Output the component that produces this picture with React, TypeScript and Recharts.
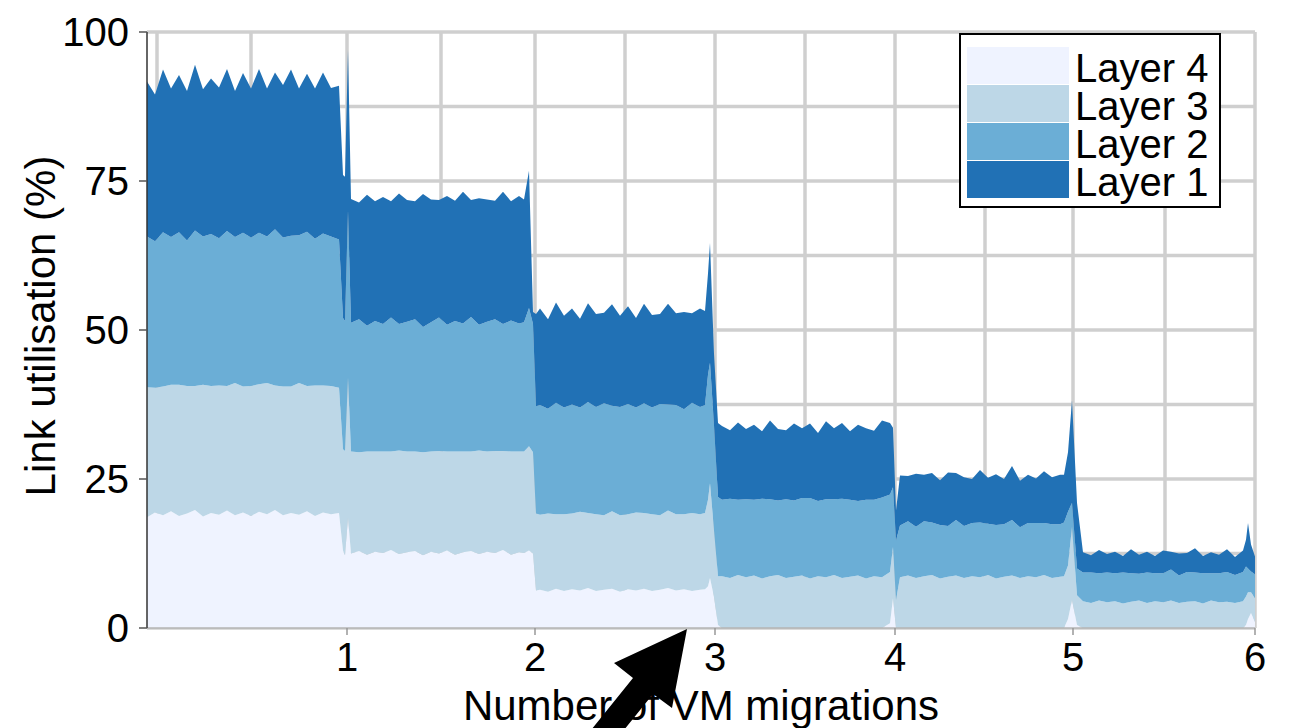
import { AreaChart, Area, XAxis, YAxis, CartesianGrid, Legend } from "recharts";

const FONT = '"Liberation Sans", Arial, Helvetica, sans-serif';

// sample times; one migration happens near each labelled tick
const TIME = [
  0, 8, 16, 24, 32, 40, 48, 56, 64, 72, 80, 88, 96, 104, 112, 120, 128, 136, 144, 152, 160, 168, 176, 184, 192,
  196, 198, 201,
  204, 212, 220, 228, 236, 244, 252, 260, 268, 276, 284, 292, 300, 308, 316, 324, 332, 340, 348, 356, 364, 372, 377,
  382, 386,
  389, 393, 401, 409, 417, 425, 433, 441, 449, 457, 465, 473, 481, 489, 497, 505, 513, 521, 529, 537, 545, 553, 558,
  561, 563, 567, 571,
  575, 583, 591, 599, 607, 615, 623, 631, 639, 647, 655, 663, 671, 679, 687, 695, 703, 711, 719, 727, 735, 743,
  746, 749,
  753, 761, 769, 777, 785, 793, 801, 809, 817, 825, 833, 841, 849, 857, 865, 873, 881, 889, 897, 905, 913, 917,
  921, 925, 930,
  936, 944, 952, 960, 968, 976, 984, 992, 1000, 1008, 1016, 1024, 1032, 1040, 1048, 1056, 1064, 1072, 1080, 1088, 1096,
  1099, 1101, 1104, 1108,
];

const LAYER_4 = [
  18.6, 19.4, 18.9, 19.6, 18.8, 19.2, 19.8, 18.7, 19.3, 19.0, 19.7, 18.9, 19.4, 18.8, 19.5, 19.1, 19.8, 18.9, 19.3, 19.0, 19.6, 18.8, 19.4, 19.1, 19.3,
  13.0, 12.2, 18.5,
  12.5, 12.9, 12.3, 12.8, 12.6, 13.1, 12.4, 12.7, 12.9, 12.2, 12.8, 12.5, 13.0, 12.3, 12.7, 12.9, 12.4, 12.8, 12.6, 13.1, 12.3, 12.7, 12.6,
  13.0, 12.5,
  6.3, 6.4, 6.1, 6.6, 6.2, 6.5, 6.3, 6.7, 6.2, 6.4, 6.6, 6.1, 6.5, 6.3, 6.6, 6.2, 6.4, 6.7, 6.3, 6.5, 6.2, 6.4, 6.5,
  7.0, 8.4, 5.2, 0.5,
  0, 0, 0, 0, 0, 0, 0, 0, 0, 0, 0, 0, 0, 0, 0, 0, 0, 0, 0, 0, 0, 0.8,
  5.0, 0,
  0, 0, 0, 0, 0, 0, 0, 0, 0, 0, 0, 0, 0, 0, 0, 0, 0, 0, 0, 0, 0, 0,
  1.5, 4.7, 0.5,
  0, 0, 0, 0, 0, 0, 0, 0, 0, 0, 0, 0, 0, 0, 0, 0, 0, 0, 0, 0, 0,
  0.5, 1.5, 2.5, 1.0,
];

const LAYER_3 = [
  21.8, 20.9, 21.6, 21.2, 22.0, 21.4, 20.8, 22.1, 21.3, 21.7, 20.9, 22.2, 21.1, 21.8, 21.4, 22.0, 20.9, 21.6, 21.2, 22.1, 21.0, 21.9, 21.3, 21.5, 21.0,
  17.0, 17.5, 23.5,
  17.1, 16.6, 17.3, 16.8, 17.0, 16.5, 17.4, 16.9, 16.7, 17.3, 16.8, 17.2, 16.6, 17.3, 16.9, 16.7, 17.4, 16.8, 17.1, 16.6, 17.3, 16.9, 17.0,
  17.5, 17.0,
  12.9, 12.6, 13.1, 12.5, 12.9, 12.7, 13.2, 12.6, 12.9, 12.5, 13.0, 12.8, 12.6, 13.1, 12.7, 12.9, 12.5, 13.0, 12.8, 12.6, 13.1, 12.7, 12.8,
  14.5, 15.9, 11.2, 8.2,
  8.7, 8.4, 8.9, 8.5, 8.8, 8.3, 8.7, 8.9, 8.4, 8.6, 8.8, 8.3, 8.7, 8.5, 8.9, 8.4, 8.6, 8.8, 8.3, 8.7, 8.5, 8.6,
  8.6, 4.7,
  8.5, 8.8, 8.4, 8.7, 8.9, 8.3, 8.6, 8.8, 8.4, 8.7, 8.5, 8.9, 8.3, 8.6, 8.8, 8.4, 8.7, 8.5, 8.9, 8.4, 8.6, 8.7,
  9.0, 12.3, 5.0,
  4.5, 4.2, 4.6, 4.3, 4.5, 4.1, 4.4, 4.6, 4.2, 4.5, 4.3, 4.6, 4.2, 4.4, 4.5, 4.1, 4.6, 4.3, 4.4, 4.2, 4.5,
  4.8, 4.5, 3.5, 4.0,
];

const LAYER_2 = [
  25.3, 24.6, 25.9, 24.8, 25.6, 24.4, 26.1, 24.9, 25.5, 24.7, 26.0, 24.5, 25.8, 24.9, 25.4, 24.6, 26.2, 25.0, 25.3, 24.8, 25.9, 24.6, 25.5, 25.1, 24.9,
  22.0, 21.8, 28.0,
  21.6, 22.3, 21.1, 21.9, 21.4, 22.5, 21.2, 21.8, 22.2, 21.0, 21.7, 22.4, 21.3, 21.9, 21.5, 22.6, 21.1, 21.8, 22.1, 21.3, 22.0, 21.5, 21.7,
  23.2, 21.5,
  18.0, 18.4, 17.6, 18.7, 17.9, 18.3, 17.5, 18.6, 18.0, 18.8, 17.7, 18.2, 18.5, 17.6, 18.4, 17.9, 18.7, 17.8, 18.3, 17.6, 18.5, 18.0, 18.1,
  21.0, 20.2, 17.6, 13.3,
  12.8, 13.3, 12.6, 13.1, 12.7, 13.4, 12.9, 12.5, 13.2, 12.8, 13.0, 13.5, 12.6, 13.1, 12.7, 13.3, 12.9, 12.5, 13.2, 12.8, 13.4, 13.0,
  10.0, 10.0,
  8.7, 9.1, 8.6, 9.2, 8.8, 9.0, 8.5, 9.3, 8.7, 8.9, 9.2, 8.6, 9.0, 8.8, 9.3, 8.5, 8.9, 9.1, 8.7, 9.0, 8.8, 9.0,
  9.0, 4.0, 4.5,
  4.8, 5.1, 4.6, 5.0, 4.7, 5.2, 4.8, 4.5, 5.1, 4.7, 4.9, 5.2, 4.6, 5.0, 4.8, 5.1, 4.6, 4.9, 5.0, 4.7, 4.9,
  5.0, 4.0, 3.5, 4.0,
];

const LAYER_1 = [
  26.0, 24.6, 27.3, 24.9, 26.4, 25.1, 27.8, 24.7, 26.1, 25.3, 27.2, 24.5, 26.8, 25.0, 27.5, 24.8, 26.3, 25.6, 27.9, 24.6, 26.5, 25.2, 27.0, 24.9, 25.8,
  24.0, 24.2, 27.0,
  20.8, 19.6, 22.0, 20.1, 21.3, 19.5, 21.9, 20.4, 19.8, 22.3, 20.6, 19.7, 21.6, 20.2, 22.1, 19.6, 21.2, 20.5, 19.9, 22.2, 20.0, 21.4, 20.6,
  23.0, 2.0,
  15.5, 16.2, 15.0, 16.8, 15.4, 16.1, 14.9, 16.6, 15.6, 15.2, 17.0, 15.3, 16.4, 15.0, 16.7, 15.5, 15.1, 16.9, 15.4, 16.3, 15.0, 16.5, 15.8,
  17.0, 20.1, 12.0, 12.4,
  12.4, 11.5, 13.0, 11.8, 12.6, 11.3, 13.2, 12.0, 11.6, 12.9, 11.7, 12.5, 11.4, 13.1, 11.9, 12.7, 11.5, 12.8, 12.0, 11.6, 12.9, 12.0,
  10.0, 5.0,
  8.4, 7.6, 8.9, 7.8, 8.3, 7.5, 9.0, 7.9, 8.2, 7.4, 8.8, 7.7, 8.5, 7.6, 9.1, 7.8, 8.1, 7.5, 8.7, 7.9, 8.3, 8.0,
  10.0, 17.2, 11.0,
  3.4, 2.9, 3.9, 3.1, 3.6, 2.8, 4.0, 3.2, 3.5, 2.9, 3.8, 3.0, 3.7, 3.2, 4.1, 2.9, 3.5, 3.1, 3.8, 3.0, 3.6,
  4.5, 7.6, 4.5, 3.0,
];

const MIGRATION_TIMES  = [200, 388, 568, 748, 926, 1108];
const MIGRATION_LABELS = ["1", "2", "3", "4", "5", "6"];
const GRID_TIMES = [10, 104, 200, 294, 388, 478, 568, 658, 748, 838, 926, 1018, 1108];
const Y_TICKS = [0, 25, 50, 75, 100];
const Y_GRID  = [0, 12.5, 25, 37.5, 50, 62.5, 75, 87.5, 100];

// stacking order: bottom first
const LAYERS = [
  { key: "layer4", name: "Layer 4", color: "#eff3ff", values: LAYER_4 },
  { key: "layer3", name: "Layer 3", color: "#bdd7e7", values: LAYER_3 },
  { key: "layer2", name: "Layer 2", color: "#6baed6", values: LAYER_2 },
  { key: "layer1", name: "Layer 1", color: "#2171b5", values: LAYER_1 },
];

const data = TIME.map((t, i) => {
  const row: Record<string, number> = { t };
  for (const l of LAYERS) row[l.key] = l.values[i];
  return row;
});

function LayerLegend() {
  return (
    <div style={{ border: "2px solid #000", background: "#fff", padding: "12px 8px 7px 6px", fontFamily: FONT }}>
      {LAYERS.map((l) => (
        <div key={l.key} style={{ display: "flex", alignItems: "flex-start", height: 38 }}>
          <div style={{ width: 102, height: 37, background: l.color, marginRight: 6 }} />
          <span style={{ fontSize: 40, lineHeight: "38px", color: "#000", paddingTop: 2, whiteSpace: "nowrap" }}>{l.name}</span>
        </div>
      ))}
    </div>
  );
}

function YLabel({ viewBox }: any) {
  const x = viewBox.x + 55;
  const y = viewBox.y + viewBox.height / 2 - 4;
  return (
    <text x={x} y={y} transform={`rotate(-90, ${x}, ${y})`} textAnchor="middle" fontSize={42} fontFamily={FONT} fill="#000">
      Link utilisation (%)
    </text>
  );
}

function XLabel({ viewBox }: any) {
  return (
    <text x={viewBox.x + viewBox.width / 2} y={viewBox.y + 92} textAnchor="middle" fontSize={42} fontFamily={FONT} fill="#000">
      Number of VM migrations
    </text>
  );
}

export default function App() {
  return (
    <div style={{ position: "absolute", left: 0, top: 0, width: 1293, height: 728, background: "#fff", fontFamily: FONT }}>
      <AreaChart width={1293} height={728} data={data} margin={{ top: 32, right: 38, bottom: 0, left: 0 }}>
        <CartesianGrid
          stroke="#cfcfcf"
          strokeWidth={3.5}
          verticalValues={GRID_TIMES}
          horizontalValues={Y_GRID}
        />
        <XAxis
          type="number"
          dataKey="t"
          domain={[0, 1108]}
          ticks={MIGRATION_TIMES}
          tickFormatter={(v: number) => MIGRATION_LABELS[MIGRATION_TIMES.indexOf(v)] ?? ""}
          height={100}
          tickSize={7}
          tickMargin={8}
          axisLine={{ stroke: "#b5b5b5", strokeWidth: 1.5 }}
          tickLine={{ stroke: "#999", strokeWidth: 1.5 }}
          tick={{ fontSize: 40, fill: "#000", fontFamily: FONT }}
          label={<XLabel />}
        />
        <YAxis
          type="number"
          domain={[0, 100]}
          ticks={Y_TICKS}
          width={147}
          tickSize={8}
          tickMargin={10}
          axisLine={{ stroke: "#333", strokeWidth: 1.5 }}
          tickLine={{ stroke: "#555", strokeWidth: 1.5 }}
          tick={{ fontSize: 40, fill: "#000", fontFamily: FONT }}
          label={<YLabel />}
        />
        {LAYERS.map((l) => (
          <Area
            key={l.key}
            type="linear"
            dataKey={l.key}
            name={l.name}
            stackId="util"
            stroke="none"
            fill={l.color}
            fillOpacity={1}
            dot={false}
            activeDot={false}
            isAnimationActive={false}
          />
        ))}
        <Legend
          layout="vertical"
          align="center"
          verticalAlign="middle"
          content={<LayerLegend />}
          wrapperStyle={{ left: 959, top: 33, width: 262, height: "auto" }}
        />
      </AreaChart>
      {/* annotation arrow pointing at the third migration */}
      <svg width={1293} height={728} style={{ position: "absolute", left: 0, top: 0, pointerEvents: "none" }}>
        <polygon points="687,629 614,663 633,678 583,740 603,756 653,694 672,708" fill="#000" />
      </svg>
    </div>
  );
}
